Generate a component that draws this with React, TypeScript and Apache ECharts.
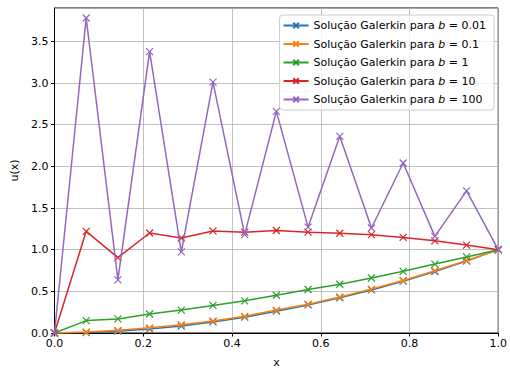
import React, { useEffect, useRef } from "react";
import * as echarts from "echarts";

const xs: number[] = [0, 1 / 14, 2 / 14, 3 / 14, 4 / 14, 5 / 14, 6 / 14, 7 / 14, 8 / 14, 9 / 14, 10 / 14, 11 / 14, 12 / 14, 13 / 14, 1];

const bLabels: string[] = ["0.01", "0.1", "1", "10", "100"];
const colors: string[] = ["#1f77b4", "#ff7f0e", "#2ca02c", "#d62728", "#9467bd"];

const uB001: number[] = [0, 0.005, 0.022, 0.047, 0.083, 0.133, 0.19, 0.262, 0.337, 0.423, 0.517, 0.622, 0.738, 0.863, 1];
const uB01: number[] = [0, 0.012, 0.032, 0.062, 0.1, 0.145, 0.2, 0.275, 0.346, 0.433, 0.527, 0.63, 0.748, 0.87, 1];
const uB1: number[] = [0, 0.149, 0.169, 0.228, 0.275, 0.331, 0.386, 0.453, 0.522, 0.585, 0.66, 0.74, 0.827, 0.913, 1];
const uB10: number[] = [0, 1.22, 0.905, 1.2, 1.14, 1.225, 1.21, 1.23, 1.21, 1.197, 1.18, 1.147, 1.106, 1.055, 1];
const uB100: number[] = [0, 3.78, 0.638, 3.376, 0.973, 3.01, 1.18, 2.66, 1.27, 2.36, 1.26, 2.04, 1.16, 1.706, 1];

const seriesValues: number[][] = [uB001, uB01, uB1, uB10, uB100];

const xTicks: number[] = [0, 0.2, 0.4, 0.6, 0.8, 1.0];
const yTicks: number[] = [0, 0.5, 1, 1.5, 2, 2.5, 3, 3.5];

const xMark = "path://M0,0L10,10M10,0L0,10";
const font = "DejaVu Sans";

export default function App() {
  const ref = useRef<HTMLDivElement>(null);
  useEffect(() => {
    if (!ref.current) return;
    const chart = echarts.init(ref.current, undefined, { renderer: "svg" });
    const names = bLabels.map((b) => "b = " + b);
    const option: any = {
      animation: false,
      backgroundColor: "#ffffff",
      grid: {
        left: 54.5,
        right: 10,
        top: 8,
        bottom: 35,
        show: true,
        borderColor: "#000",
        borderWidth: 1,
        backgroundColor: "transparent",
      },
      legend: {
        top: 15,
        right: 16,
        orient: "vertical",
        backgroundColor: "rgba(255,255,255,0.8)",
        borderColor: "#cccccc",
        borderWidth: 1,
        borderRadius: 3,
        padding: [5, 8, 5, 3],
        itemWidth: 25,
        itemHeight: 7,
        itemGap: 7.5,
        data: names,
        formatter: (name: string) => {
          const b = name.replace("b = ", "");
          return "{a|Solução Galerkin para }{i|b}{a| = " + b + "}";
        },
        textStyle: {
          fontFamily: font,
          fontSize: 11,
          color: "#000",
          rich: {
            a: { fontFamily: font, fontSize: 11, color: "#000" },
            i: { fontFamily: font, fontSize: 11, color: "#000", fontStyle: "italic" },
          },
        },
      },
      xAxis: {
        type: "value",
        min: 0,
        max: 1,
        interval: 0.2,
        name: "x",
        nameLocation: "middle",
        nameGap: 24,
        nameTextStyle: { fontFamily: font, fontSize: 11, color: "#000" },
        axisLine: { show: true, lineStyle: { color: "#000", width: 1 } },
        axisTick: { show: true, inside: false, length: 3.5, lineStyle: { color: "#000" } },
        axisLabel: {
          fontFamily: font,
          fontSize: 11,
          color: "#000",
          margin: 5,
          formatter: (v: number) => (xTicks.some((t) => Math.abs(t - v) < 1e-9) ? v.toFixed(1) : ""),
        },
        splitLine: { show: true, lineStyle: { color: "#b0b0b0", width: 0.8 } },
      },
      yAxis: {
        type: "value",
        min: 0,
        max: 3.9,
        interval: 0.5,
        name: "u(x)",
        nameLocation: "middle",
        nameGap: 34,
        nameTextStyle: { fontFamily: font, fontSize: 11, color: "#000" },
        axisLine: { show: true, lineStyle: { color: "#000", width: 1 } },
        axisTick: { show: true, inside: false, length: 3.5, lineStyle: { color: "#000" } },
        axisLabel: {
          fontFamily: font,
          fontSize: 11,
          color: "#000",
          margin: 6,
          showMaxLabel: false,
          formatter: (v: number) => (yTicks.some((t) => Math.abs(t - v) < 1e-9) ? v.toFixed(1) : ""),
        },
        splitLine: { show: true, lineStyle: { color: "#b0b0b0", width: 0.8 } },
      },
      series: seriesValues.map((vals, i) => ({
        name: names[i],
        type: "line",
        data: vals.map((v, j) => [xs[j], v]),
        symbol: xMark,
        symbolSize: 7,
        showAllSymbol: true,
        lineStyle: { color: colors[i], width: 1.5 },
        itemStyle: { color: "transparent", borderColor: colors[i], borderWidth: 1.2 },
        emphasis: { disabled: true },
        z: 2 + i,
      })),
    };
    chart.setOption(option);
    return () => chart.dispose();
  }, []);
  return (
    <div
      ref={ref}
      style={{ position: "absolute", left: 0, top: 0, width: 510, height: 373 }}
    />
  );
}
